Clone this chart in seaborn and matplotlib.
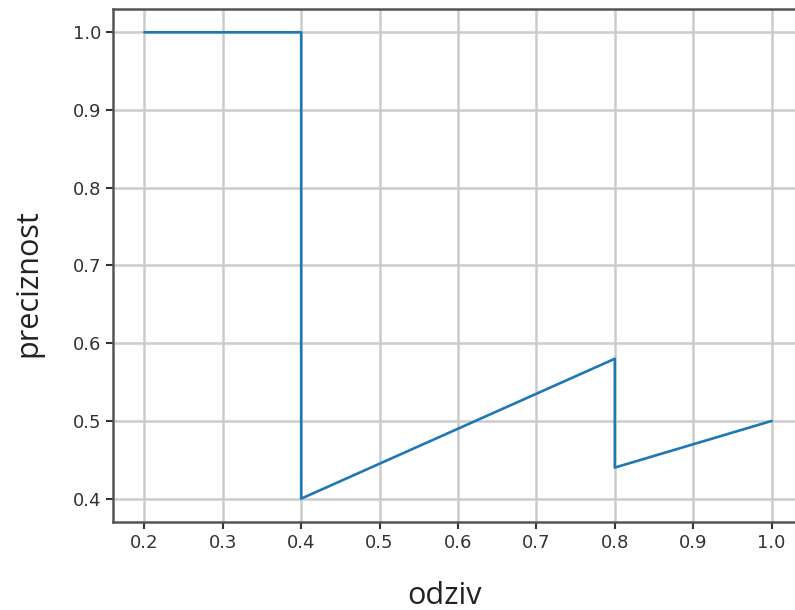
import numpy as np
import pandas as pd
import matplotlib
matplotlib.use("Agg")
import matplotlib.pyplot as plt
import seaborn as sns

# precision-recall curve points
recall = [0.2, 0.4, 0.4, 0.8, 0.8, 1.0]
precision = [1.0, 1.0, 0.4, 0.58, 0.44, 0.5]
xticks = [0.2, 0.3, 0.4, 0.5, 0.6, 0.7, 0.8, 0.9, 1.0]
yticks = [0.4, 0.5, 0.6, 0.7, 0.8, 0.9, 1.0]

df = pd.DataFrame({"odziv": recall, "preciznost": precision})

sns.set_style("ticks")
plt.rcParams["font.family"] = ["DejaVu Sans"]

fig = plt.figure(figsize=(7.95, 6.1), dpi=100)
ax = fig.add_axes([0.1421, 0.1443, 0.868, 0.841])

sns.lineplot(data=df, x="odziv", y="preciznost", sort=False, estimator=None,
             color="#1f77b4", linewidth=1.9, ax=ax)

ax.set_xlim(0.16, 1.04)
ax.set_ylim(0.37, 1.03)
ax.set_xticks(xticks)
ax.set_yticks(yticks)
ax.set_xticklabels([f"{t:.1f}" for t in xticks])
ax.set_yticklabels([f"{t:.1f}" for t in yticks])
ax.tick_params(labelsize=13, width=1.5, length=5, colors="#333333")
ax.grid(True, color="#cccccc", linewidth=1.8)
ax.set_axisbelow(True)
for s in ax.spines.values():
    s.set_linewidth(1.8)
    s.set_color("#555555")
ax.spines["right"].set_visible(False)

# axis labels, placed like in the original screenshot
ax.set_xlabel("odziv", fontsize=22, family="Open Sans", color="#222222", va="center")
ax.set_ylabel("preciznost", fontsize=22, family="Open Sans", color="#222222", va="center")
ax.xaxis.set_label_coords(0.481, -0.144)
ax.yaxis.set_label_coords(-0.123, 0.466)

fig.savefig("out.png", dpi=100)
